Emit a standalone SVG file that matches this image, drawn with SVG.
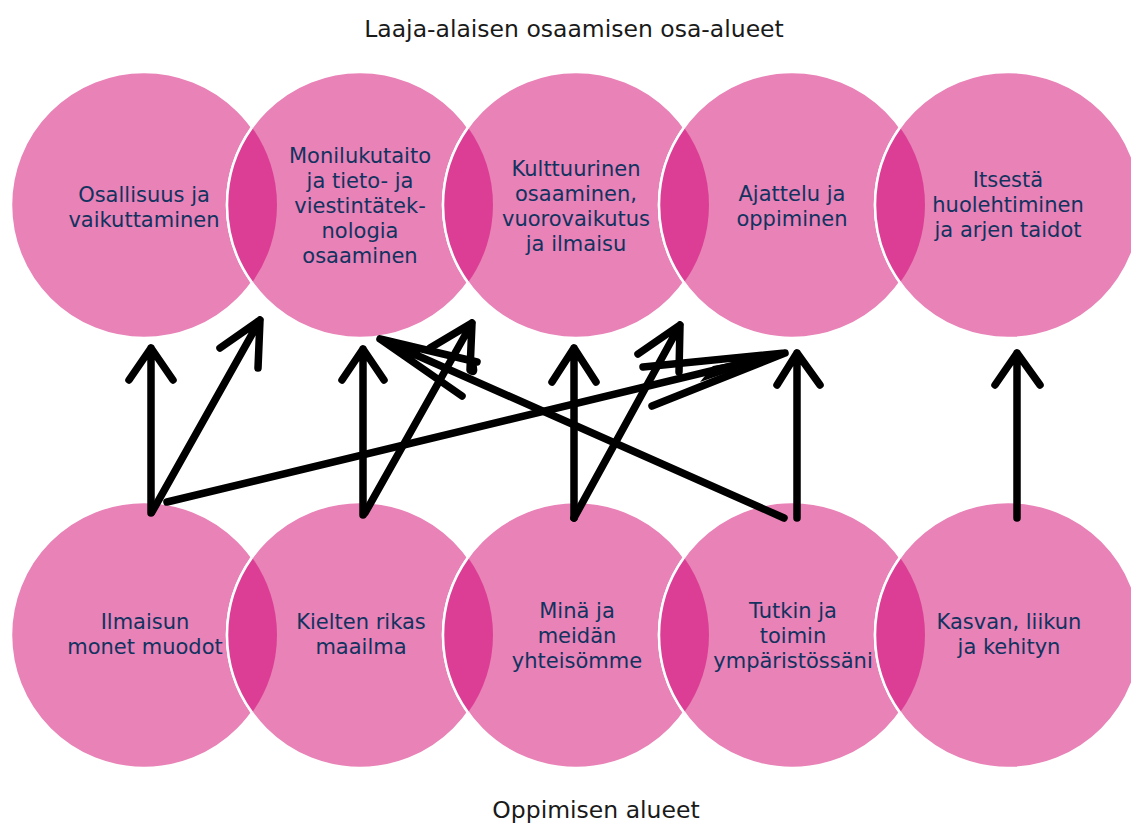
<svg xmlns="http://www.w3.org/2000/svg" width="1131" height="825" viewBox="0 0 1131 825">
  <style>
    .c { fill: #E882B7; stroke: #FFFFFF; stroke-width: 2.5; }
    .lens { fill: #DB3E94; stroke: none; }
    .w { fill: none; stroke: #FFFFFF; stroke-width: 2.5; }
    .t { font-family: "DejaVu Sans", sans-serif; font-size: 21px; fill: #12325F; text-anchor: middle; }
    .h { font-family: "DejaVu Sans", sans-serif; font-size: 23.5px; fill: #1A1A1A; text-anchor: middle; }
    .a { fill: none; stroke: #000000; stroke-width: 7.5; stroke-linecap: round; stroke-linejoin: round; }
  </style>
  <rect width="1131" height="825" fill="#FFFFFF"/>

  <text class="h" x="574" y="37">Laaja-alaisen osaamisen osa-alueet</text>
  <text class="h" x="596" y="818">Oppimisen alueet</text>

  <!-- top row circles -->
  <g id="top-circles">
    <circle class="c" cx="144" cy="205" r="133"/>
    <circle class="c" cx="360" cy="205" r="133"/>
    <circle class="c" cx="576" cy="205" r="133"/>
    <circle class="c" cx="792" cy="205" r="133"/>
    <circle class="c" cx="1008" cy="205" r="133"/>
    <path class="lens" d="M252,127.4 A133,133 0 0 1 252,282.6 A133,133 0 0 1 252,127.4 Z"/>
    <path class="lens" d="M468,127.4 A133,133 0 0 1 468,282.6 A133,133 0 0 1 468,127.4 Z"/>
    <path class="lens" d="M684,127.4 A133,133 0 0 1 684,282.6 A133,133 0 0 1 684,127.4 Z"/>
    <path class="lens" d="M900,127.4 A133,133 0 0 1 900,282.6 A133,133 0 0 1 900,127.4 Z"/>
    <path class="w" d="M252,127.4 A133,133 0 0 0 252,282.6"/>
    <path class="w" d="M468,127.4 A133,133 0 0 0 468,282.6"/>
    <path class="w" d="M684,127.4 A133,133 0 0 0 684,282.6"/>
    <path class="w" d="M900,127.4 A133,133 0 0 0 900,282.6"/>
  </g>

  <!-- bottom row circles -->
  <g id="bottom-circles">
    <circle class="c" cx="144" cy="635" r="133"/>
    <circle class="c" cx="360" cy="635" r="133"/>
    <circle class="c" cx="576" cy="635" r="133"/>
    <circle class="c" cx="792" cy="635" r="133"/>
    <circle class="c" cx="1008" cy="635" r="133"/>
    <path class="lens" d="M252,557.4 A133,133 0 0 1 252,712.6 A133,133 0 0 1 252,557.4 Z"/>
    <path class="lens" d="M468,557.4 A133,133 0 0 1 468,712.6 A133,133 0 0 1 468,557.4 Z"/>
    <path class="lens" d="M684,557.4 A133,133 0 0 1 684,712.6 A133,133 0 0 1 684,557.4 Z"/>
    <path class="lens" d="M900,557.4 A133,133 0 0 1 900,712.6 A133,133 0 0 1 900,557.4 Z"/>
    <path class="w" d="M252,557.4 A133,133 0 0 0 252,712.6"/>
    <path class="w" d="M468,557.4 A133,133 0 0 0 468,712.6"/>
    <path class="w" d="M684,557.4 A133,133 0 0 0 684,712.6"/>
    <path class="w" d="M900,557.4 A133,133 0 0 0 900,712.6"/>
  </g>

  <g id="node-osallisuus">
    <text class="t" x="144" y="201.5">Osallisuus ja</text>
    <text class="t" x="144" y="226.5">vaikuttaminen</text>
  </g>
  <g id="node-monilukutaito">
    <text class="t" x="360" y="163">Monilukutaito</text>
    <text class="t" x="360" y="188">ja tieto- ja</text>
    <text class="t" x="360" y="213">viestintätek-</text>
    <text class="t" x="360" y="238">nologia</text>
    <text class="t" x="360" y="263">osaaminen</text>
  </g>
  <g id="node-kulttuurinen">
    <text class="t" x="576" y="175.5">Kulttuurinen</text>
    <text class="t" x="576" y="200.5">osaaminen,</text>
    <text class="t" x="576" y="225.5">vuorovaikutus</text>
    <text class="t" x="576" y="250.5">ja ilmaisu</text>
  </g>
  <g id="node-ajattelu">
    <text class="t" x="792" y="201">Ajattelu ja</text>
    <text class="t" x="792" y="226">oppiminen</text>
  </g>
  <g id="node-itsesta">
    <text class="t" x="1008" y="187">Itsestä</text>
    <text class="t" x="1008" y="212">huolehtiminen</text>
    <text class="t" x="1008" y="237">ja arjen taidot</text>
  </g>

  <g id="node-ilmaisun">
    <text class="t" x="145" y="629">Ilmaisun</text>
    <text class="t" x="145" y="654">monet muodot</text>
  </g>
  <g id="node-kielten">
    <text class="t" x="361" y="629">Kielten rikas</text>
    <text class="t" x="361" y="654">maailma</text>
  </g>
  <g id="node-mina">
    <text class="t" x="577" y="618">Minä ja</text>
    <text class="t" x="577" y="643">meidän</text>
    <text class="t" x="577" y="668">yhteisömme</text>
  </g>
  <g id="node-tutkin">
    <text class="t" x="793" y="618">Tutkin ja</text>
    <text class="t" x="793" y="643">toimin</text>
    <text class="t" x="793" y="668">ympäristössäni</text>
  </g>
  <g id="node-kasvan">
    <text class="t" x="1009" y="629">Kasvan, liikun</text>
    <text class="t" x="1009" y="654">ja kehityn</text>
  </g>

  <g id="connectors">
    <!-- Ilmaisun -> Osallisuus -->
    <path class="a" d="M151,513 V348 M129,380 L151,348 L173,380"/>
    <!-- Ilmaisun -> Monilukutaito -->
    <path class="a" d="M152,512 L260,320 M220,348 L260,320 L258,368"/>
    <!-- Ilmaisun -> Ajattelu -->
    <path class="a" d="M167,502 L785,353 M643,367 L785,353 L652,406"/>
    <polygon points="713,366 785,353 700,382" fill="#000000"/>
    <!-- Kielten -> Monilukutaito -->
    <path class="a" d="M363,515 V349 M342,380 L363,349 L384,380"/>
    <!-- Kielten -> Kulttuurinen -->
    <path class="a" d="M365,513 L472,323 M430,348 L472,323 L470,370 Q476,375 472,362"/>
    <!-- Tutkin -> Monilukutaito -->
    <path class="a" d="M784,518 L380,339 M477,362 L380,339 L462,396"/>
    <!-- Minä -> Kulttuurinen -->
    <path class="a" d="M574,518 V348 M552,382 L574,348 L596,382"/>
    <!-- Minä -> Ajattelu -->
    <path class="a" d="M574,518 L680,325 M638,354 L680,325 L679,372"/>
    <!-- Tutkin -> Ajattelu -->
    <path class="a" d="M797,518 V353 M777,385 L797,353 L820,385"/>
    <!-- Kasvan -> Itsestä -->
    <path class="a" d="M1017,518 V353 M995,385 L1017,353 L1040,385"/>
  </g>
</svg>
